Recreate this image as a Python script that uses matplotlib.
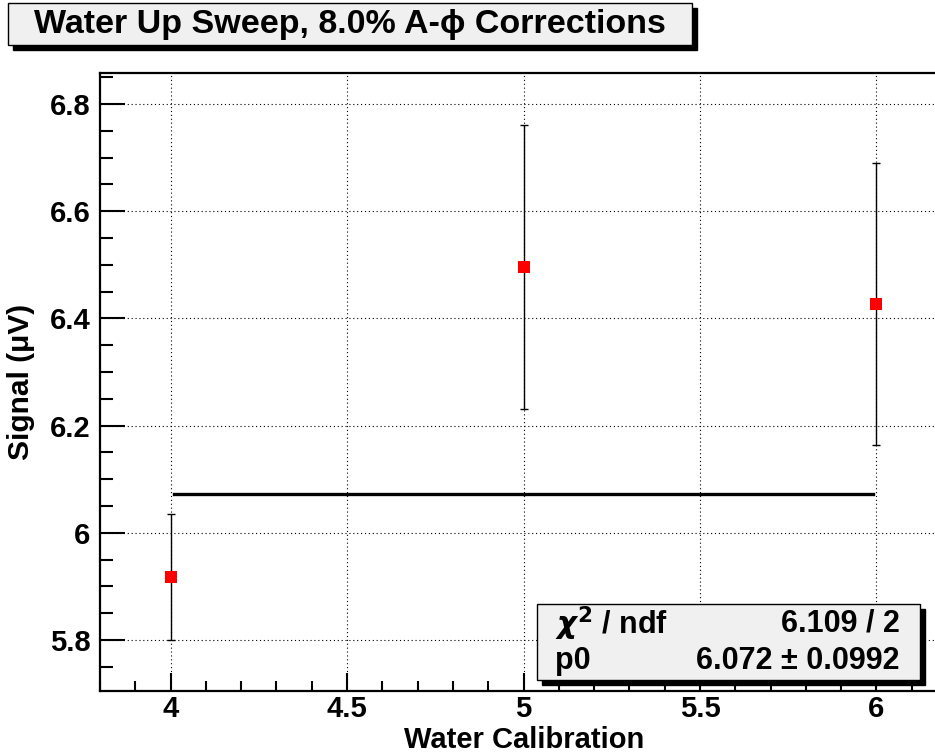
import matplotlib
matplotlib.use("Agg")
import matplotlib.pyplot as plt
from matplotlib.patches import Rectangle
from matplotlib.ticker import MultipleLocator, FuncFormatter

# data
calib = [4.0, 5.0, 6.0]
signal = [5.918, 6.496, 6.427]
signal_err = [0.118, 0.265, 0.263]
fit_p0 = 6.072
fit_p0_err = 0.0992
chi2 = 6.109
ndf = 2

W, H = 935, 756
plt.rcParams["font.family"] = ["Liberation Sans", "DejaVu Sans"]
plt.rcParams["font.weight"] = "bold"

fig = plt.figure(figsize=(W / 100, H / 100), dpi=100)
fig.patch.set_facecolor("white")

def fx(x):
    return x / W

def fy(y):
    return 1 - y / H

# axes frame in pixels (right edge runs a bit past the image, as in the reference)
left, right, top, bottom = 100, 947, 73, 691
ax = fig.add_axes([fx(left), fy(bottom), fx(right - left), (bottom - top) / H])

ax.set_xlim(3.8, 6.2)
ax.set_ylim(5.705, 6.858)

ax.xaxis.set_major_locator(MultipleLocator(0.5))
ax.xaxis.set_minor_locator(MultipleLocator(0.1))
ax.yaxis.set_major_locator(MultipleLocator(0.2))
ax.yaxis.set_minor_locator(MultipleLocator(0.05))
ax.xaxis.set_major_formatter(FuncFormatter(lambda v, p: f"{v:g}"))
ax.yaxis.set_major_formatter(FuncFormatter(lambda v, p: f"{v:g}"))

ax.tick_params(which="both", direction="in", top=False, right=False, width=1.5)
ax.tick_params(axis="y", which="major", length=18, pad=7, labelsize=21)
ax.tick_params(axis="y", which="minor", length=9)
ax.tick_params(axis="x", which="major", length=13, pad=3, labelsize=21)
ax.tick_params(axis="x", which="minor", length=7)
for lab in ax.get_xticklabels() + ax.get_yticklabels():
    lab.set_fontweight("bold")
for s in ax.spines.values():
    s.set_linewidth(1.6)

ax.grid(True, which="major", color="black", linestyle=(0, (1.0, 2.5)), linewidth=0.8)
ax.set_axisbelow(True)

# fit line
ax.plot([calib[0] + 0.01, calib[-1] - 0.01], [fit_p0, fit_p0], color="black", lw=2.4, zorder=3)

# points
ax.errorbar(calib, signal, yerr=signal_err, fmt="none", ecolor="black",
            elinewidth=1.0, capsize=3, capthick=1.0, zorder=4)
ax.plot(calib, signal, "s", color="red", markersize=8, markeredgewidth=0, zorder=5)

# boxes with shadow
def shadow_box(x0, y0, x1, y1, off=5):
    fig.patches.append(Rectangle((fx(x0 + off), fy(y1 + off)), fx(x1 - x0), (y1 - y0) / H,
                                 transform=fig.transFigure, facecolor="black",
                                 edgecolor="black", zorder=10))
    fig.patches.append(Rectangle((fx(x0), fy(y1)), fx(x1 - x0), (y1 - y0) / H,
                                 transform=fig.transFigure, facecolor="#f0f0f0",
                                 edgecolor="black", lw=1.0, zorder=11))

shadow_box(8, 3, 692, 45)
fig.text(fx(350), fy(25), "Water Up Sweep, 8.0% A-\u03d5 Corrections",
         ha="center", va="center", fontsize=24.5, fontweight="bold", zorder=12)

# stats box
shadow_box(537, 604, 920, 680)
fig.text(fx(555), fy(624), r"$\chi^{2}$ / ndf", ha="left", va="center",
         fontsize=22, fontweight="bold", zorder=12)
fig.text(fx(900), fy(624), f"{chi2:.3f} / {ndf}", ha="right", va="center",
         fontsize=22, fontweight="bold", zorder=12)
fig.text(fx(555), fy(661), "p0", ha="left", va="center",
         fontsize=22, fontweight="bold", zorder=12)
fig.text(fx(900), fy(661), f"{fit_p0:.3f} \u00b1 {fit_p0_err}", ha="right", va="center",
         fontsize=22, fontweight="bold", zorder=12)

# axis titles
fig.text(fx(524), fy(740), "Water Calibration", ha="center", va="center",
         fontsize=21, fontweight="bold")
fig.text(fx(21), fy(382), "Signal (\u03bcV)", ha="center", va="center",
         rotation=90, fontsize=21.5, fontweight="bold")

fig.savefig("out.png", dpi=100)
